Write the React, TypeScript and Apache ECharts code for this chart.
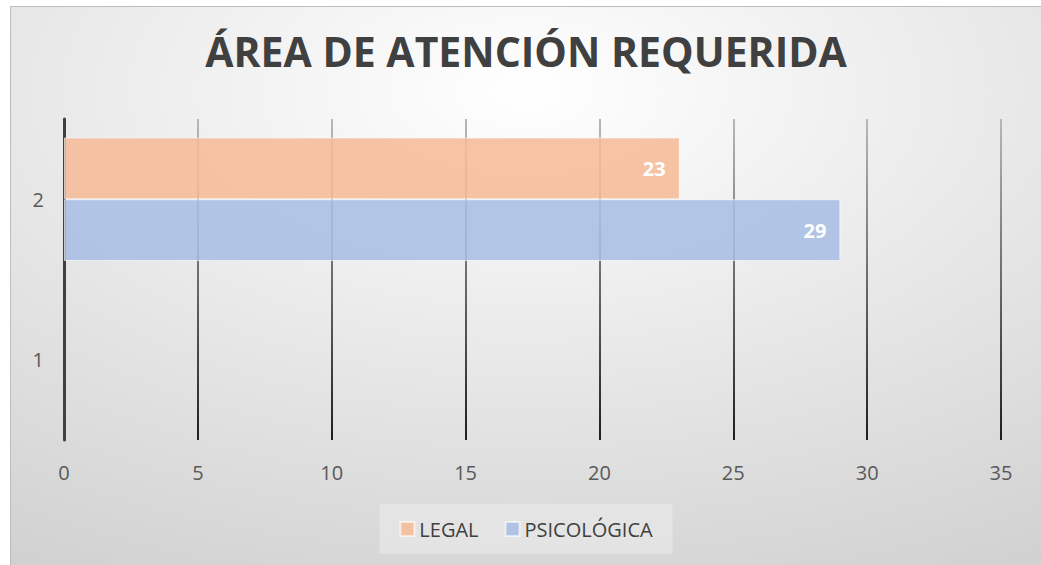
import React, { useEffect, useRef } from "react";
import * as echarts from "echarts";

const categories = ["1", "2"];
const legalValues = [null, 23];
const psicologicaValues = [null, 29];
const xTicks = { min: 0, max: 35, interval: 5 };
const titleText = "ÁREA DE ATENCIÓN REQUERIDA";

export default function App() {
  const ref = useRef<HTMLDivElement>(null);
  useEffect(() => {
    if (!ref.current) return;
    const chart = echarts.init(ref.current, undefined, { renderer: "svg" });
    const font = "'Open Sans', 'Noto Sans', sans-serif";
    const label = {
      show: true,
      position: "insideRight",
      distance: 14,
      color: "#ffffff",
      fontFamily: font,
      fontWeight: "bold",
      fontSize: 20,
    };
    chart.setOption({
      animation: false,
      backgroundColor: new echarts.graphic.RadialGradient(0.5, 0.15, 1.25, [
        { offset: 0, color: "#ffffff" },
        { offset: 1, color: "#c4c4c4" },
      ]),
      title: {
        text: titleText,
        left: "center",
        top: 18,
        textStyle: { fontFamily: font, fontWeight: "bold", fontSize: 41, color: "#404040" },
      },
      legend: {
        data: ["LEGAL", "PSICOLÓGICA"],
        left: "center",
        top: 497,
        itemWidth: 14,
        itemHeight: 14,
        itemGap: 26,
        padding: [15, 20],
        backgroundColor: "rgba(228,228,228,0.9)",
        icon: "rect",
        textStyle: { fontFamily: font, fontSize: 20, color: "#404040" },
      },
      grid: { left: 53, right: 40, top: 112, bottom: 125, containLabel: false },
      xAxis: {
        type: "value",
        min: xTicks.min,
        max: xTicks.max,
        interval: xTicks.interval,
        axisLine: { show: false },
        axisTick: { show: false },
        axisLabel: { fontFamily: font, fontSize: 20, color: "#595959", margin: 22 },
        splitLine: {
          show: true,
          lineStyle: {
            width: 2,
            color: new echarts.graphic.LinearGradient(
              0,
              112,
              0,
              434,
              [
                { offset: 0, color: "#b8b8b8" },
                { offset: 1, color: "#1e1e1e" },
              ],
              true
            ),
          },
        },
      },
      yAxis: {
        type: "category",
        data: categories,
        axisLine: { show: true, lineStyle: { color: "#404040", width: 3 } },
        axisTick: { show: false },
        axisLabel: { fontFamily: font, fontSize: 20, color: "#595959", margin: 20 },
      },
      series: [
        {
          name: "LEGAL",
          type: "bar",
          data: legalValues,
          barGap: "0%",
          barCategoryGap: "23%",
          itemStyle: {
            color: "rgba(246,187,152,0.88)",
            borderColor: "rgba(255,255,255,0.6)",
            borderWidth: 1,
          },
          label,
        },
        {
          name: "PSICOLÓGICA",
          type: "bar",
          data: psicologicaValues,
          barGap: "0%",
          barCategoryGap: "23%",
          itemStyle: {
            color: "rgba(170,190,228,0.88)",
            borderColor: "rgba(255,255,255,0.6)",
            borderWidth: 1,
          },
          label,
        },
      ],
    });
    return () => chart.dispose();
  }, []);
  return (
    <div
      ref={ref}
      style={{
        position: "absolute",
        left: 10,
        top: 6,
        width: 1031,
        height: 559,
        borderTop: "1px solid #bdbdbd",
        borderLeft: "1px solid #bdbdbd",
        boxSizing: "border-box",
      }}
    />
  );
}
